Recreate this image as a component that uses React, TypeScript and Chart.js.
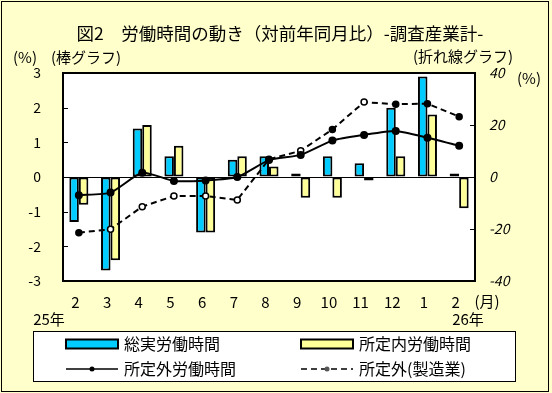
import React, { useEffect, useRef } from 'react';
import { Chart, registerables } from 'chart.js';

Chart.register(...registerables);

// ---- data ----
const monthLabels = ['2', '3', '4', '5', '6', '7', '8', '9', '10', '11', '12', '1', '2'];
const totalHours = [-1.3, -2.7, 1.4, 0.6, -1.6, 0.5, 0.6, 0.1, 0.6, 0.4, 2.0, 2.9, 0.1];
const scheduledHours = [-0.8, -2.4, 1.5, 0.9, -1.6, 0.6, 0.3, -0.6, -0.6, -0.1, 0.6, 1.8, -0.9];
const overtimeHours = [-7.0, -6.0, 1.6, -1.5, -1.3, 0.0, 6.5, 8.5, 14.0, 16.2, 17.7, 15.1, 12.0];
const overtimeManufacturing = [-21.4, -20.1, -11.4, -7.3, -7.3, -8.8, 6.8, 10.1, 18.3, 28.8, 28.0, 28.2, 23.2];
const seriesNames = ['総実労働時間', '所定内労働時間', '所定外労働時間', '所定外(製造業)'];
const leftAxis = { min: -3, max: 3, step: 1 };
const rightAxis = { min: -40, max: 40, step: 20 };
const titleText = '図2　労働時間の動き（対前年同月比）-調査産業計-';
const yearStart = '25年';
const yearEnd = '26年';
const monthUnit = '(月)';

const FONT = '"Noto Sans CJK JP", "Noto Sans", sans-serif';
const BLUE = '#00CCFF';
const YELLOW = '#FFFF99';
const BG = '#FFFFCC';

const decorPlugin = {
  id: 'decor',
  beforeDraw(chart: any) {
    const { ctx, chartArea: a, width, height } = chart;
    ctx.save();
    ctx.fillStyle = BG;
    ctx.fillRect(0, 0, width, height);
    ctx.fillStyle = '#FFFFFF';
    ctx.fillRect(a.left, a.top, a.right - a.left, a.bottom - a.top);
    ctx.restore();
  },
  afterDraw(chart: any) {
    const { ctx, chartArea: a, scales } = chart;
    ctx.save();
    // outer border
    ctx.strokeStyle = '#000';
    ctx.lineWidth = 1;
    ctx.strokeRect(1.5, 1.5, 547, 390);

    // inward tick marks
    ctx.lineWidth = 1;
    scales.y.ticks.forEach((t: any) => {
      if (t.value === leftAxis.min || t.value === leftAxis.max || t.value === 0) return;
      const py = Math.round(scales.y.getPixelForValue(t.value)) + 0.5;
      ctx.beginPath();
      ctx.moveTo(a.left, py);
      ctx.lineTo(a.left + 5, py);
      ctx.stroke();
    });
    scales.y1.ticks.forEach((t: any) => {
      if (t.value === rightAxis.min || t.value === rightAxis.max || t.value === 0) return;
      const py = Math.round(scales.y1.getPixelForValue(t.value)) + 0.5;
      ctx.beginPath();
      ctx.moveTo(a.right - 5, py);
      ctx.lineTo(a.right, py);
      ctx.stroke();
    });

    // plot frame
    ctx.lineWidth = 2;
    ctx.strokeRect(a.left, a.top, a.right - a.left, a.bottom - a.top);

    // texts
    ctx.fillStyle = '#000';
    ctx.textBaseline = 'middle';
    ctx.textAlign = 'center';
    ctx.font = `17.5px ${FONT}`;
    ctx.fillText(titleText, 280, 33);
    ctx.font = `15px ${FONT}`;
    ctx.fillText('(%)', 25, 57);
    ctx.fillText('(棒グラフ)', 86, 57);
    ctx.fillText('(折れ線グラフ)', 463, 56);
    ctx.fillText('(%)', 529, 78);
    ctx.fillText(monthUnit, 487, 301);
    ctx.fillText(yearStart, 49, 319);
    ctx.fillText(yearEnd, 468, 319);

    // legend
    const ds = chart.data.datasets;
    const lx = 33.5, ly = 331.5, lw = 482, lh = 50;
    ctx.fillStyle = '#FFFFFF';
    ctx.fillRect(lx, ly, lw, lh);
    ctx.strokeStyle = '#000';
    ctx.lineWidth = 1;
    ctx.strokeRect(lx, ly, lw, lh);
    const cols = [66, 301];
    const rows = [344, 369];
    const symW = 52;
    // bar items
    [ds[2], ds[3]].forEach((d: any, i: number) => {
      ctx.fillStyle = d.backgroundColor;
      ctx.fillRect(cols[i], rows[0] - 4.5, symW, 9);
      ctx.lineWidth = 2;
      ctx.strokeStyle = '#000';
      ctx.strokeRect(cols[i], rows[0] - 4.5, symW, 9);
    });
    // line items
    [ds[0], ds[1]].forEach((d: any, i: number) => {
      ctx.strokeStyle = d.borderColor;
      ctx.lineWidth = 1.5;
      ctx.setLineDash(d.borderDash || []);
      ctx.beginPath();
      ctx.moveTo(cols[i], rows[1]);
      ctx.lineTo(cols[i] + symW, rows[1]);
      ctx.stroke();
      ctx.setLineDash([]);
      ctx.beginPath();
      ctx.arc(cols[i] + symW / 2, rows[1], 2.5, 0, Math.PI * 2);
      ctx.fillStyle = i === 0 ? '#000' : '#555';
      ctx.fill();
    });
    ctx.fillStyle = '#000';
    ctx.textAlign = 'left';
    ctx.font = `16px ${FONT}`;
    ctx.fillText(seriesNames[0], cols[0] + symW + 6, rows[0]);
    ctx.fillText(seriesNames[1], cols[1] + symW + 6, rows[0]);
    ctx.fillText(seriesNames[2], cols[0] + symW + 6, rows[1]);
    ctx.fillText(seriesNames[3], cols[1] + symW + 6, rows[1]);
    ctx.restore();
  },
};

export default function App() {
  const ref = useRef<HTMLCanvasElement>(null);
  useEffect(() => {
    document.body.style.margin = '0';
    const hollow = [false, true, true, true, true, true, false, true, false, true, false, false, false];
    const chart = new Chart(ref.current as HTMLCanvasElement, {
      type: 'bar',
      data: {
        labels: monthLabels,
        datasets: [
          {
            type: 'line',
            label: seriesNames[2],
            data: overtimeHours,
            yAxisID: 'y1',
            borderColor: '#000',
            borderWidth: 2,
            pointRadius: 3,
            pointBackgroundColor: '#000',
            pointBorderColor: '#000',
            tension: 0.2,
            order: 0,
          } as any,
          {
            type: 'line',
            label: seriesNames[3],
            data: overtimeManufacturing,
            yAxisID: 'y1',
            borderColor: '#000',
            borderWidth: 2,
            borderDash: [6, 4],
            pointRadius: 3,
            pointBorderWidth: 1.5,
            pointBackgroundColor: hollow.map((h) => (h ? '#FFFFFF' : '#000')),
            pointBorderColor: '#000',
            tension: 0,
            order: 0,
          } as any,
          {
            type: 'bar',
            label: seriesNames[0],
            data: totalHours,
            yAxisID: 'y',
            backgroundColor: BLUE,
            borderColor: '#000',
            borderWidth: 2,
            borderSkipped: false,
            categoryPercentage: 0.6,
            barPercentage: 1.0,
            order: 1,
          } as any,
          {
            type: 'bar',
            label: seriesNames[1],
            data: scheduledHours,
            yAxisID: 'y',
            backgroundColor: YELLOW,
            borderColor: '#000',
            borderWidth: 2,
            borderSkipped: false,
            categoryPercentage: 0.6,
            barPercentage: 1.0,
            order: 1,
          } as any,
        ],
      },
      options: {
        responsive: false,
        animation: false,
        layout: { padding: { top: 73, left: 0, right: 0, bottom: 0 } },
        plugins: {
          legend: { display: false },
          title: { display: false },
          tooltip: { enabled: false },
        },
        scales: {
          x: {
            type: 'category',
            offset: true,
            grid: { display: false, drawTicks: false },
            border: { display: false },
            ticks: {
              color: '#000',
              font: { family: FONT, size: 15 },
              padding: 12,
              labelOffset: -3.5,
              maxRotation: 0,
              autoSkip: false,
            },
            afterFit: (s: any) => {
              s.height = 112;
            },
          },
          y: {
            position: 'left',
            min: leftAxis.min,
            max: leftAxis.max,
            ticks: {
              stepSize: leftAxis.step,
              padding: 22,
              color: '#000',
              font: { family: FONT, size: 14 },
            },
            grid: {
              color: (c: any) => (c.tick && c.tick.value === 0 ? '#000' : 'rgba(0,0,0,0)'),
              lineWidth: 1,
              drawTicks: false,
            },
            border: { display: false },
            afterFit: (s: any) => {
              s.width = 63;
            },
          },
          y1: {
            position: 'right',
            min: rightAxis.min,
            max: rightAxis.max,
            ticks: {
              stepSize: rightAxis.step,
              padding: 14,
              color: '#000',
              font: { family: FONT, size: 14, style: 'italic' },
            },
            grid: { display: false, drawTicks: false },
            border: { display: false },
            afterFit: (s: any) => {
              s.width = 77;
            },
          },
        },
      } as any,
      plugins: [decorPlugin],
    });
    return () => chart.destroy();
  }, []);
  return (
    <div style={{ position: 'absolute', left: 0, top: 0, width: 552, height: 393 }}>
      <canvas ref={ref} width={552} height={393} style={{ display: 'block' }} />
    </div>
  );
}
